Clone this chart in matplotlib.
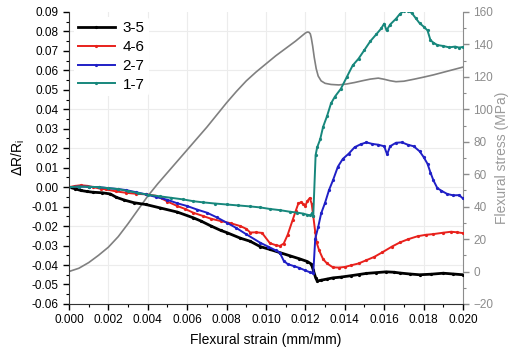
import numpy as np
import matplotlib
matplotlib.use("Agg")
import matplotlib.pyplot as plt
from matplotlib.ticker import MultipleLocator

plt.rcParams['font.family'] = ['Liberation Sans', 'DejaVu Sans']

# flexural stress curve (right axis)
stress_x = [0, 0.0005, 0.001, 0.0015, 0.002, 0.0025, 0.003, 0.0035, 0.004, 0.0045,
            0.005, 0.0055, 0.006, 0.0065, 0.007, 0.0075, 0.008, 0.0085, 0.009, 0.0095,
            0.01, 0.0105, 0.011, 0.0115, 0.0118, 0.012, 0.0121, 0.01218, 0.01225, 0.0123,
            0.01237, 0.01245, 0.01255, 0.01265, 0.0128, 0.013, 0.0133, 0.0137, 0.0141,
            0.0145, 0.0149, 0.0153, 0.0157, 0.016, 0.0163, 0.0166, 0.017, 0.0175,
            0.018, 0.0185, 0.019, 0.0195, 0.02]
stress_y = [0, 2, 5.5, 10, 15, 21.5, 29.5, 38, 46.5, 54,
            61, 68, 75, 82, 89, 96.5, 104, 111, 117.5, 123,
            128, 133, 137.5, 142, 145, 147, 147.6, 147.5, 146.5, 144,
            139, 132, 125, 120.5, 117.5, 116, 115.3, 115, 115.6,
            116.5, 117.6, 118.6, 119.2, 118.5, 117.6, 117, 117.3, 118.5,
            119.8, 121.2, 122.8, 124.4, 126]

# 3-5
bx = [0, 0.0003, 0.0006, 0.0009, 0.0012, 0.0017, 0.0021, 0.0024, 0.0028, 0.0033,
      0.0039, 0.0046, 0.0055, 0.0063, 0.0067, 0.0072, 0.0077, 0.008, 0.0087, 0.0092,
      0.0097, 0.0102, 0.0107, 0.0112, 0.0117, 0.0121, 0.0123, 0.0124, 0.01252, 0.0126,
      0.0128, 0.0131, 0.0134, 0.0138, 0.0143, 0.0147, 0.0151, 0.0156, 0.0161, 0.0165,
      0.0168, 0.0173, 0.0178, 0.0184, 0.019, 0.0195, 0.02]
by = [0, -0.0008, -0.0017, -0.0022, -0.0026, -0.0029, -0.0035, -0.0052, -0.0066, -0.008,
      -0.0089, -0.0106, -0.0128, -0.0157, -0.0174, -0.0199, -0.0222, -0.0233, -0.0262, -0.0278,
      -0.0305, -0.032, -0.0336, -0.0352, -0.0368, -0.0382, -0.0395, -0.0425, -0.0465, -0.0482,
      -0.0478, -0.0472, -0.0466, -0.0462, -0.0455, -0.0449, -0.0443, -0.0439, -0.0435, -0.0437,
      -0.0441, -0.0446, -0.045, -0.0447, -0.0442, -0.0446, -0.045]

# 4-6
rx = [0, 0.0003, 0.0006, 0.0009, 0.0012, 0.0016, 0.0019, 0.0024, 0.0029, 0.0034,
      0.0039, 0.0044, 0.0047, 0.005, 0.0055, 0.0059, 0.0063, 0.0068, 0.0072, 0.0077,
      0.0082, 0.0087, 0.009, 0.0092, 0.0095, 0.0098, 0.0102, 0.0105, 0.0107, 0.0109,
      0.0111, 0.01135, 0.0115, 0.01165, 0.0118, 0.0119, 0.012, 0.0121, 0.01222, 0.01232,
      0.0124, 0.0125, 0.01257, 0.0127, 0.0129, 0.0131, 0.0134, 0.0137, 0.014, 0.0143,
      0.0147, 0.0151, 0.0155, 0.0159, 0.0164, 0.0168, 0.0172, 0.0177, 0.0181, 0.0185,
      0.019, 0.0194, 0.0197, 0.02]
ry = [0, 0.0006, 0.001, 0.0007, 0.0001, -0.0008, -0.0012, -0.0022, -0.0029, -0.0034,
      -0.0037, -0.0044, -0.0058, -0.0074, -0.0097, -0.0112, -0.0131, -0.0148, -0.0162, -0.0174,
      -0.0185, -0.02, -0.0214, -0.0233, -0.0232, -0.0235, -0.0288, -0.0298, -0.0302, -0.029,
      -0.0245, -0.017, -0.0125, -0.0082, -0.0078, -0.0088, -0.0095, -0.0072, -0.0056, -0.0085,
      -0.0148, -0.023, -0.0284, -0.0325, -0.037, -0.0392, -0.0412, -0.0413, -0.041, -0.0402,
      -0.0392, -0.0375, -0.0358, -0.0335, -0.0305, -0.0284, -0.0268, -0.0252, -0.0245, -0.0241,
      -0.0234, -0.0229, -0.0232, -0.0236]

# 2-7
ux = [0, 0.0005, 0.001, 0.0015, 0.002, 0.0025, 0.0029, 0.0034, 0.0039, 0.0044,
      0.005, 0.0055, 0.006, 0.0065, 0.007, 0.0075, 0.008, 0.0085, 0.009, 0.0097,
      0.0101, 0.0105, 0.0107, 0.0109, 0.0111, 0.0114, 0.0117, 0.012, 0.01225, 0.0124,
      0.0125, 0.01265, 0.0128, 0.013, 0.0132, 0.0134, 0.01365, 0.0139, 0.0142, 0.0145,
      0.0148, 0.0151, 0.0154, 0.0157, 0.016, 0.01615, 0.0163, 0.0166, 0.0169, 0.0172,
      0.0175, 0.0178, 0.018, 0.0182, 0.01835, 0.0185, 0.0187, 0.0189, 0.0192, 0.0195,
      0.0198, 0.02]
uy = [0, 0.0003, 0.0002, 0.0, -0.0005, -0.001, -0.0015, -0.0026, -0.0037, -0.005,
      -0.0065, -0.0083, -0.0097, -0.0115, -0.0131, -0.0155, -0.0182, -0.021, -0.0242, -0.0285,
      -0.0305, -0.0325, -0.0336, -0.0378, -0.0395, -0.0405, -0.0415, -0.0428, -0.0438, -0.0443,
      -0.0265, -0.0205, -0.0135, -0.008, -0.0015, 0.0035, 0.0105, 0.0145, 0.0172, 0.0205,
      0.022, 0.023, 0.0222, 0.0218, 0.021, 0.0168, 0.021, 0.0228, 0.023, 0.0218,
      0.021, 0.0184, 0.0155, 0.012, 0.0075, 0.0035, -0.0005, -0.0018, -0.0035, -0.0042,
      -0.0041, -0.0058]

# 1-7
tx = [0, 0.0005, 0.001, 0.0015, 0.002, 0.0025, 0.003, 0.0035, 0.004, 0.0046,
      0.0052, 0.0058, 0.0063, 0.0068, 0.0074, 0.008, 0.0086, 0.0092, 0.0097, 0.0102,
      0.0107, 0.0112, 0.0116, 0.0119, 0.0121, 0.01225, 0.01235, 0.0124, 0.01252, 0.0126,
      0.01275, 0.0129, 0.0131, 0.0133, 0.0135, 0.0138, 0.0141, 0.0144, 0.0147, 0.015,
      0.0153, 0.0156, 0.01585, 0.016, 0.01612, 0.0163, 0.0166, 0.0168, 0.017, 0.0172,
      0.0174, 0.0176, 0.0178, 0.018, 0.0182, 0.01835, 0.0185, 0.0187, 0.019, 0.0193,
      0.0196, 0.0198, 0.02]
ty = [0, 0.0003, 0.0002, 0.0, -0.0005, -0.001, -0.002, -0.003, -0.0039, -0.0047,
      -0.0055, -0.0063, -0.0072, -0.0078, -0.0084, -0.0089, -0.0094, -0.0099, -0.0104, -0.0112,
      -0.0118, -0.0126, -0.0131, -0.0136, -0.0142, -0.0145, -0.0133, -0.0148, 0.0165, 0.0205,
      0.0245, 0.031, 0.0365, 0.043, 0.0465, 0.0505, 0.0565, 0.0625, 0.066, 0.0705,
      0.075, 0.0785, 0.0815, 0.084, 0.0805, 0.0835, 0.0865, 0.089, 0.0905, 0.0905,
      0.0895, 0.0868, 0.0842, 0.0825, 0.0805, 0.0755, 0.0742, 0.073, 0.0725, 0.0718,
      0.0722, 0.0717, 0.072]

series = [("3-5", bx, by, "#000000", 2.0),
          ("4-6", rx, ry, "#e8211c", 1.4),
          ("2-7", ux, uy, "#1f1fc6", 1.4),
          ("1-7", tx, ty, "#17877c", 1.4)]

fig = plt.figure(figsize=(5.11, 3.51), dpi=100)
ax = fig.add_axes([0.135, 0.134, 0.771, 0.832])
ax2 = ax.twinx()
ax.set_zorder(ax2.get_zorder() + 1)
ax.patch.set_visible(False)

# light grid
for gx in np.arange(0.002, 0.02, 0.002):
    ax2.axvline(gx, color="#ececec", lw=0.8, zorder=0)
for gy in np.arange(-0.04, 0.09, 0.02):
    ax2.axhline(-20 + (gy + 0.06) / 0.15 * 180, color="#ececec", lw=0.8, zorder=0)

ax2.plot(stress_x, stress_y, color="#808080", lw=1.2, zorder=2)

for name, x, y, c, lw in series:
    ax.plot(x, y, color=c, lw=lw, marker="o", ms=1.3, label=name)

ax.set_xlim(0, 0.02)
ax.set_ylim(-0.06, 0.09)
ax2.set_ylim(-20, 160)

ax.xaxis.set_major_locator(MultipleLocator(0.002))
ax.xaxis.set_minor_locator(MultipleLocator(0.001))
ax.yaxis.set_major_locator(MultipleLocator(0.01))
ax.yaxis.set_minor_locator(MultipleLocator(0.005))
ax2.yaxis.set_major_locator(MultipleLocator(20))
ax2.yaxis.set_minor_locator(MultipleLocator(10))
ax.xaxis.set_major_formatter(plt.FuncFormatter(lambda v, p: f"{v:.3f}"))
ax.yaxis.set_major_formatter(plt.FuncFormatter(lambda v, p: f"{v:.2f}"))

ax.tick_params(which="major", direction="out", length=4, width=1, labelsize=8.5)
ax.tick_params(which="minor", direction="out", length=2, width=0.8)
ax2.tick_params(which="major", direction="out", length=4, width=1, labelsize=8.5,
                colors="#8c8c8c")
ax2.tick_params(which="minor", direction="out", length=2, width=0.8, colors="#8c8c8c")

for a in (ax, ax2):
    a.spines["top"].set_visible(False)
ax.spines["right"].set_visible(False)
ax2.spines["left"].set_visible(False)
ax2.spines["bottom"].set_visible(False)
ax2.spines["right"].set_color("#8c8c8c")
ax.spines["left"].set_color("#333333")
ax.spines["bottom"].set_color("#333333")

ax.set_xlabel("Flexural strain (mm/mm)", fontsize=10, labelpad=5)
ax.set_ylabel(r"$\Delta$R/R$_\mathregular{i}$", fontsize=10, labelpad=3)
ax2.set_ylabel("Flexural stress (MPa)", fontsize=10, color="#9a9a9a", labelpad=1)

leg = ax.legend(loc="upper left", bbox_to_anchor=(0.0, 1.0), frameon=True,
                fontsize=11, handlelength=2.4, handletextpad=0.5, labelspacing=0.32,
                borderpad=0.3, borderaxespad=0.3)
leg.get_frame().set_edgecolor("none")
leg.get_frame().set_facecolor("white")
leg.get_frame().set_alpha(1)

fig.savefig("out.png", dpi=100)
